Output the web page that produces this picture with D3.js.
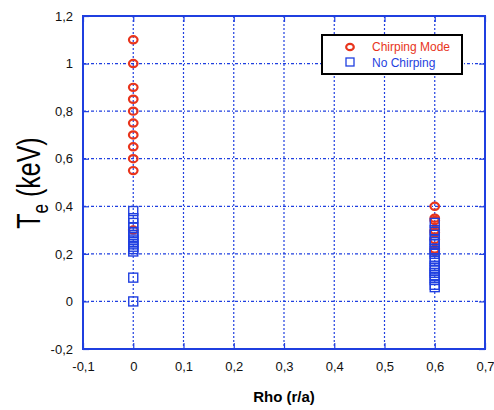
<!DOCTYPE html>
<html>
<head>
<meta charset="utf-8">
<script src="https://cdn.jsdelivr.net/npm/d3@7"></script>
<style>
  body { margin: 0; background: #fff; }
  text { font-family: "Liberation Sans", Arial, sans-serif; }
</style>
</head>
<body>
<div id="root"></div>
<script>
// data
const chirpX = [0, 0, 0, 0, 0, 0, 0, 0, 0, 0, 0, 0.6, 0.6, 0.6, 0.6, 0.6, 0.6, 0.6, 0.6]
const chirpY = [1.1, 1.0, 0.9, 0.85, 0.8, 0.75, 0.7, 0.65, 0.6, 0.55, 0.3,
  0.4, 0.35, 0.34, 0.3, 0.29, 0.26, 0.22, 0.21]

const noChirpX = [0, 0, 0, 0, 0, 0, 0, 0, 0, 0, 0, 0, 0, 0, 0,
  0.6, 0.6, 0.6, 0.6, 0.6, 0.6, 0.6, 0.6, 0.6, 0.6, 0.6, 0.6, 0.6, 0.6, 0.6, 0.6, 0.6, 0.6, 0.6, 0.6]
const noChirpY = [0.38, 0.35, 0.33, 0.31, 0.29, 0.28, 0.27, 0.26, 0.25, 0.24, 0.23, 0.22, 0.21, 0.1, 0,
  0.33, 0.3, 0.28, 0.26, 0.25, 0.24, 0.22, 0.21, 0.2, 0.18, 0.17, 0.15, 0.14, 0.13, 0.12, 0.11, 0.1, 0.09, 0.07, 0.06]

const xTicks = [-0.1, 0, 0.1, 0.2, 0.3, 0.4, 0.5, 0.6, 0.7]
const yTicks = [-0.2, 0, 0.2, 0.4, 0.6, 0.8, 1, 1.2]

const seriesNames = ["Chirping Mode", "No Chirping"]

const width = 494
const height = 410
const margin = { top: 16, right: 9, bottom: 61, left: 83 }
const innerW = width - margin.left - margin.right
const innerH = height - margin.top - margin.bottom

const BLUE = "#1f3fe0"
const RED = "#e8341c"

const fmt = d => String(+d.toFixed(2)).replace(".", ",")

const svg = d3.select("#root").append("svg")
  .attr("width", width)
  .attr("height", height)

const bounds = svg.append("g")
  .attr("transform", `translate(${margin.left},${margin.top})`)

const xScale = d3.scaleLinear().domain([-0.1, 0.7]).range([0, innerW])
const yScale = d3.scaleLinear().domain([-0.2, 1.2]).range([innerH, 0])

// grid
bounds.append("g").selectAll("line")
  .data(xTicks.slice(1, -1))
  .join("line")
  .attr("x1", d => xScale(d)).attr("x2", d => xScale(d))
  .attr("y1", 0).attr("y2", innerH)
  .attr("stroke", BLUE).attr("stroke-width", 1.2)
  .attr("stroke-dasharray", "2 2")

bounds.append("g").selectAll("line")
  .data(yTicks.slice(1, -1))
  .join("line")
  .attr("y1", d => yScale(d)).attr("y2", d => yScale(d))
  .attr("x1", 0).attr("x2", innerW)
  .attr("stroke", BLUE).attr("stroke-width", 1.2)
  .attr("stroke-dasharray", "3 2 1 2")

// axes: ticks pointing inward, labels placed separately
const xAxis = bounds.append("g")
  .attr("transform", `translate(0,${innerH})`)
  .call(d3.axisBottom(xScale).tickValues(xTicks).tickSizeInner(-6).tickSizeOuter(0).tickPadding(10).tickFormat(fmt))
const yAxis = bounds.append("g")
  .call(d3.axisLeft(yScale).tickValues(yTicks).tickSizeInner(-6).tickSizeOuter(0).tickPadding(10).tickFormat(fmt))
const xTop = bounds.append("g")
  .call(d3.axisTop(xScale).tickValues(xTicks).tickSizeInner(-6).tickSizeOuter(0).tickFormat(""))
const yRight = bounds.append("g")
  .attr("transform", `translate(${innerW},0)`)
  .call(d3.axisRight(yScale).tickValues(yTicks).tickSizeInner(-6).tickSizeOuter(0).tickFormat(""))

for (const ax of [xAxis, yAxis, xTop, yRight]) {
  ax.select(".domain").remove()
  ax.selectAll(".tick line").attr("stroke", BLUE).attr("stroke-width", 1.2)
  ax.selectAll(".tick text").attr("fill", "#111").style("font-size", "13px")
    .style("font-family", "'Liberation Sans', Arial, sans-serif")
}
xAxis.selectAll(".tick text").attr("dy", "0.9em")
yAxis.selectAll(".tick text").attr("dx", "0")

// frame
bounds.append("rect")
  .attr("width", innerW).attr("height", innerH)
  .attr("fill", "none").attr("stroke", BLUE).attr("stroke-width", 2)

// points
const chirpData = chirpX.map((x, i) => ({ x, y: chirpY[i] }))
const noChirpData = noChirpX.map((x, i) => ({ x, y: noChirpY[i] }))

bounds.append("g").selectAll("ellipse")
  .data(chirpData)
  .join("ellipse")
  .attr("cx", d => xScale(d.x)).attr("cy", d => yScale(d.y))
  .attr("rx", 4.3).attr("ry", 3.6)
  .attr("fill", "none").attr("stroke", RED).attr("stroke-width", 2.2)

bounds.append("g").selectAll("rect")
  .data(noChirpData)
  .join("rect")
  .attr("x", d => xScale(d.x) - 4.5).attr("y", d => yScale(d.y) - 4.5)
  .attr("width", 9).attr("height", 9)
  .attr("fill", "none").attr("stroke", BLUE).attr("stroke-width", 1.4)

// legend
const legend = svg.append("g").attr("transform", "translate(322,35)")
legend.append("rect")
  .attr("width", 140).attr("height", 39)
  .attr("fill", "#fff").attr("stroke", "#000").attr("stroke-width", 2)
legend.append("ellipse")
  .attr("cx", 28).attr("cy", 12).attr("rx", 3.8).attr("ry", 3.2)
  .attr("fill", "none").attr("stroke", RED).attr("stroke-width", 2.2)
legend.append("rect")
  .attr("x", 24).attr("y", 23).attr("width", 8).attr("height", 8)
  .attr("fill", "none").attr("stroke", BLUE).attr("stroke-width", 1.3)
legend.selectAll("text.lbl")
  .data(seriesNames)
  .join("text")
  .attr("class", "lbl")
  .attr("x", 50).attr("y", (d, i) => 16 + i * 15.5)
  .attr("fill", (d, i) => i === 0 ? RED : BLUE)
  .style("font-size", "12px")
  .text(d => d)

// axis titles
svg.append("text")
  .attr("x", margin.left + innerW / 2).attr("y", 402)
  .attr("text-anchor", "middle")
  .style("font-size", "15px").style("font-weight", "bold")
  .text("Rho (r/a)")

const yTitle = svg.append("text")
  .attr("transform", "translate(40,183) rotate(-90) scale(1,1.3)")
  .attr("text-anchor", "middle")
  .style("font-size", "25px")
yTitle.append("tspan").text("T")
yTitle.append("tspan").attr("dy", 6).style("font-size", "17px").text("e")
yTitle.append("tspan").attr("dy", -6).text(" (keV)")
</script>
</body>
</html>
